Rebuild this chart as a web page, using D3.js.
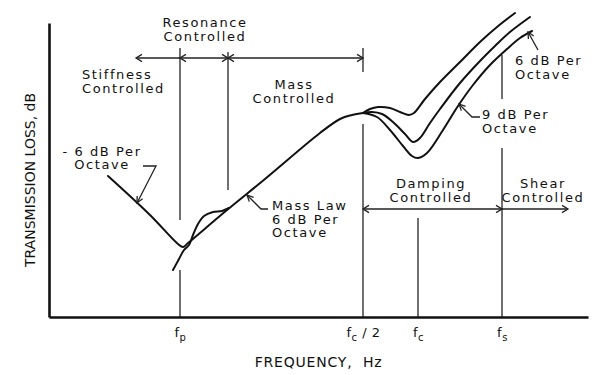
<!DOCTYPE html>
<html>
<head>
<meta charset="utf-8">
<script src="https://cdn.jsdelivr.net/npm/d3@7"></script>
<style>
  body { margin: 0; background: #fff; }
  svg { display: block; font-family: "DejaVu Sans", sans-serif; }
</style>
</head>
<body>
<svg></svg>
<script>
const [WIDTH, HEIGHT] = [600, 375]

// schematic units: x = log frequency, y = transmission loss
const tickValues = [26.2, 62.8, 73.8, 90.6]          // fp, fc/2, fc, fs
const tickLabels = [["f", "p", ""], ["f", "c", " / 2"], ["f", "c", ""], ["f", "s", ""]]
const resonanceEnd = 35.8

const mainCurve = [
    [11.8, 28.2], [20.2, 20.4], [25.8, 14.6], [26.8, 14.0], [27.8, 14.8],
    [35.6, 21.4], [43.2, 27.6], [54.2, 36.8], [58.2, 39.6], [60.6, 40.4], [62.8, 40.8]
]
const resonanceCurve = [
    [24.8, 9.4], [26.0, 11.6], [27.0, 13.4], [28.0, 14.4], [28.8, 16.4], [29.8, 18.6],
    [31.0, 20.2], [32.8, 21.0], [34.6, 21.2], [36.0, 21.8]
]
const lowDampingCurve = [
    [62.8, 40.8], [64.2, 41.6], [65.8, 42.0], [68.2, 41.8], [70.2, 41.0], [72.0, 40.4],
    [73.0, 40.8], [75.2, 43.6], [78.2, 47.0], [82.2, 51.0], [86.2, 55.0], [89.6, 58.0], [93.2, 60.8]
]
const midDampingCurve = [
    [62.8, 40.8], [64.6, 41.0], [66.6, 40.6], [68.8, 39.0], [71.2, 36.6], [72.8, 35.0],
    [74.2, 35.8], [76.2, 38.8], [78.2, 41.6], [82.2, 46.8], [86.2, 51.2], [89.2, 54.2],
    [92.2, 57.0], [96.2, 60.0]
]
const highDampingCurve = [
    [62.8, 40.8], [65.6, 40.0], [68.2, 37.4], [70.8, 34.2], [72.6, 32.2], [73.8, 31.8],
    [75.6, 32.8], [78.8, 37.4], [81.8, 42.2], [84.8, 46.4], [88.2, 50.4], [91.6, 53.6],
    [94.2, 55.8], [96.6, 57.2]
]

const svg = d3.select("svg").attr("width", WIDTH).attr("height", HEIGHT)

const x = d3.scaleLinear().domain([0, 107.8]).range([49, 588])
const y = d3.scaleLinear().domain([0, 58.8]).range([317, 23])

const line = d3.line().x(d => x(d[0])).y(d => y(d[1])).curve(d3.curveCatmullRom.alpha(0.5))

// region dividers
const dividers = [
    [26.2, 53.8, 19.4], [26.2, 9.4, 0],
    [resonanceEnd, 53.0, 25.4],
    [62.8, 53.8, 49.0], [62.8, 38.6, 0],
    [73.8, 19.8, 0],
    [90.6, 52.4, 43.6], [90.6, 33.8, 0]
]
svg.append("g").selectAll("line").data(dividers).join("line")
    .attr("x1", d => x(d[0])).attr("x2", d => x(d[0]))
    .attr("y1", d => y(d[1])).attr("y2", d => y(d[2]))
    .attr("stroke", "#222").attr("stroke-width", 1.3)

function arrowHead(g, from, tip, len = 7, spread = 0.5) {
    const [x0, y0] = [x(from[0]), y(from[1])]
    const [x1, y1] = [x(tip[0]), y(tip[1])]
    const a = Math.atan2(y1 - y0, x1 - x0)
    const p = t => [x1 - len * Math.cos(a + t), y1 - len * Math.sin(a + t)]
    const [l, r] = [p(spread), p(-spread)]
    g.append("path")
        .attr("d", `M${l[0]},${l[1]}L${x1},${y1}L${r[0]},${r[1]}`)
        .attr("fill", "none").attr("stroke", "#222").attr("stroke-width", 1.3)
}

// region span arrows
const spans = [
    { a: 26.2, b: 17.4, y: 51.8, heads: [false, true] },
    { a: 26.2, b: resonanceEnd, y: 51.8, heads: [true, true] },
    { a: resonanceEnd, b: 62.8, y: 51.8, heads: [true, true] },
    { a: 62.8, b: 90.6, y: 21.6, heads: [true, true] },
    { a: 90.6, b: 103.8, y: 21.6, heads: [false, true] }
]
const spanG = svg.append("g")
spans.forEach(s => {
    spanG.append("line")
        .attr("x1", x(s.a)).attr("x2", x(s.b)).attr("y1", y(s.y)).attr("y2", y(s.y))
        .attr("stroke", "#222").attr("stroke-width", 1.3)
    if (s.heads[0]) arrowHead(spanG, [s.b, s.y], [s.a, s.y], 7, 0.55)
    if (s.heads[1]) arrowHead(spanG, [s.a, s.y], [s.b, s.y], 7, 0.55)
})

// curves
const curveG = svg.append("g").attr("fill", "none").attr("stroke", "#111")
    .attr("stroke-width", 2).attr("stroke-linejoin", "round").attr("stroke-linecap", "round")
for (const c of [mainCurve, resonanceCurve, lowDampingCurve, midDampingCurve, highDampingCurve]) {
    curveG.append("path").attr("d", line(c))
}

// leaders
const leaders = [
    [[18.8, 30.2], [21.4, 30.2], [17.6, 22.8]],
    [[43.8, 21.6], [42.4, 21.6], [39.6, 24.4]],
    [[97.8, 53.4], [95.8, 57.0]],
    [[86.2, 40.0], [84.6, 40.0], [82.0, 42.6]]
]
const leadG = svg.append("g")
leaders.forEach(pts => {
    leadG.append("path")
        .attr("d", d3.line().x(d => x(d[0])).y(d => y(d[1]))(pts))
        .attr("fill", "none").attr("stroke", "#222").attr("stroke-width", 1.3)
    arrowHead(leadG, pts[pts.length - 2], pts[pts.length - 1], 7, 0.45)
})

// annotation text
const notes = [
    { lines: ["Resonance", "Controlled"], x: 31.2, y: 58.0, anchor: "middle" },
    { lines: ["Stiffness", "Controlled"], x: 6.6, y: 47.6, anchor: "start" },
    { lines: ["Mass", "Controlled"], x: 49.0, y: 45.6, anchor: "middle" },
    { lines: ["- 6 dB Per", "Octave"], x: 10.6, y: 32.3, anchor: "middle" },
    { lines: ["Mass Law", "6 dB Per", "Octave"], x: 44.6, y: 21.4, anchor: "start" },
    { lines: ["Damping", "Controlled"], x: 76.4, y: 25.8, anchor: "middle" },
    { lines: ["Shear", "Controlled"], x: 98.8, y: 25.8, anchor: "middle" },
    { lines: ["6 dB Per", "Octave"], x: 93.2, y: 50.4, anchor: "start" },
    { lines: ["9 dB Per", "Octave"], x: 86.6, y: 39.6, anchor: "start" }
]
const noteG = svg.append("g").attr("font-size", 13).attr("letter-spacing", 1.6).attr("fill", "#111")
notes.forEach(n => {
    const t = noteG.append("text").attr("text-anchor", n.anchor)
        .attr("x", x(n.x)).attr("y", y(n.y))
    n.lines.forEach((s, i) => {
        t.append("tspan").attr("x", x(n.x)).attr("dy", i ? 13.5 : 0).text(s)
    })
})

// axes
const xAxis = svg.append("g").attr("transform", `translate(0,${y(0)})`)
    .call(d3.axisBottom(x).tickValues(tickValues).tickSize(0).tickSizeOuter(0).tickFormat(""))
xAxis.select(".domain").attr("stroke", "#111").attr("stroke-width", 2.6)
xAxis.selectAll(".tick text")
    .attr("font-family", "DejaVu Sans, sans-serif").attr("font-size", 13).attr("fill", "#111")
    .attr("y", 20).attr("dy", 0).attr("letter-spacing", 0.5)
    .each(function (d, i) {
        const [f, sub, rest] = tickLabels[i]
        const t = d3.select(this)
        t.append("tspan").text(f)
        t.append("tspan").attr("dy", 4).attr("font-size", 10).text(sub)
        if (rest) t.append("tspan").attr("dy", -4).attr("font-size", 13).text(rest)
    })

const yAxis = svg.append("g").attr("transform", `translate(${x(0)},0)`)
    .call(d3.axisLeft(y).tickValues([]).tickSizeOuter(0))
yAxis.select(".domain").attr("stroke", "#111").attr("stroke-width", 2.6)

svg.append("text")
    .attr("transform", `translate(35,180) rotate(-90)`)
    .attr("text-anchor", "middle").attr("font-size", 14).attr("fill", "#111")
    .text("TRANSMISSION LOSS, dB")

svg.append("text")
    .attr("x", (x.range()[0] + x.range()[1]) / 2).attr("y", 367)
    .attr("text-anchor", "middle").attr("font-size", 14).attr("letter-spacing", 0.8)
    .attr("fill", "#111").style("white-space", "pre")
    .text("FREQUENCY,  Hz")
</script>
</body>
</html>
